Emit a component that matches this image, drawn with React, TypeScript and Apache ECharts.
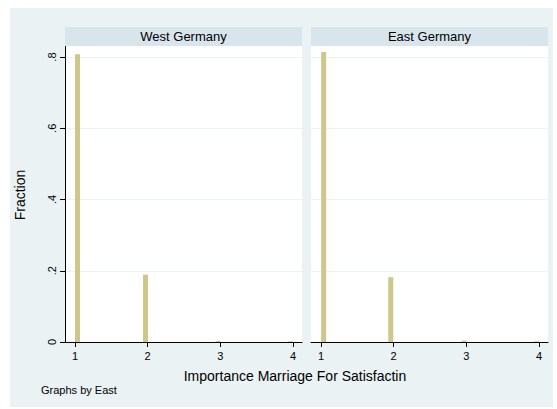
import React, { useEffect, useRef } from "react";
import * as echarts from "echarts";

// Bin midpoints (x) and fractions (y)
const westX = [1.035, 1.97, 2.97, 3.965];
const westY = [0.808, 0.189, 0.003, 0.002];
const eastX = [1.037, 1.96, 2.97, 3.965];
const eastY = [0.814, 0.182, 0.004, 0.002];
const panelTitles = ["West Germany", "East Germany"];
const xTicks = [1, 2, 3, 4];
const yTicks = [0, 0.2, 0.4, 0.6, 0.8];
const xTitle = "Importance Marriage For Satisfactin";
const yTitle = "Fraction";
const note = "Graphs by East";

const FONT = "Liberation Sans, Arial, sans-serif";
const BG = "#eaf2f3";
const STRIP = "#d9e5ec";
const BAR = "#cdc78a";

export default function App() {
  const ref = useRef<HTMLDivElement>(null);
  useEffect(() => {
    document.body.style.margin = "0";
    const chart = echarts.init(ref.current!, null, { renderer: "svg" });
    const fmt = (v: number) => (v === 0 ? "0" : String(+v.toFixed(2)).replace(/^0\./, "."));
    const grids = [
      { left: 65, top: 46, width: 237, height: 296 },
      { left: 311, top: 46, width: 237, height: 296 },
    ];
    const xAxisBase = (gi: number) => ({
      type: "value",
      gridIndex: gi,
      min: 0.863,
      max: 4.123,
      axisLine: { show: true, onZero: false, lineStyle: { color: "#000", width: 1 } },
      axisTick: { show: true, customValues: xTicks, length: 5, lineStyle: { color: "#000" } },
      axisLabel: { show: true, customValues: xTicks, color: "#000", fontSize: 11, fontFamily: FONT, margin: 8 },
      splitLine: { show: false },
    });
    const yAxisBase = (gi: number) => ({
      type: "value",
      gridIndex: gi,
      min: 0,
      max: 0.831,
      interval: 0.2,
      axisLine: { show: gi === 0, lineStyle: { color: "#000", width: 1 } },
      axisTick: { show: gi === 0, customValues: yTicks, length: 5, lineStyle: { color: "#000" } },
      axisLabel: {
        show: gi === 0,
        customValues: yTicks,
        rotate: 90,
        color: "#000",
        fontSize: 11,
        fontFamily: FONT,
        margin: 8,
        formatter: fmt,
      },
      splitLine: { show: true, lineStyle: { color: BG, width: 1 } },
    });
    const strip = (gi: number) => {
      const g = grids[gi];
      return [
        { type: "rect", shape: { x: g.left, y: 27, width: g.width, height: 19 }, style: { fill: STRIP }, z: 1 },
        {
          type: "text",
          x: g.left + g.width / 2,
          y: 36.5,
          style: { text: panelTitles[gi], fill: "#000", font: `13px ${FONT}`, align: "center", verticalAlign: "middle" },
          z: 2,
        },
      ];
    };
    chart.setOption({
      animation: false,
      backgroundColor: "#fff",
      grid: grids.map((g) => ({ ...g, show: true, backgroundColor: "#fff", borderWidth: 0 })),
      xAxis: [xAxisBase(0), xAxisBase(1)],
      yAxis: [yAxisBase(0), yAxisBase(1)],
      graphic: [
        { type: "rect", shape: { x: 10, y: 8, width: 543, height: 399 }, style: { fill: BG }, z: -10, silent: true },
        ...strip(0),
        ...strip(1),
        {
          type: "text",
          x: 295,
          y: 376,
          style: { text: xTitle, fill: "#000", font: `14px ${FONT}`, align: "center", verticalAlign: "middle" },
        },
        {
          type: "text",
          x: 20,
          y: 195,
          rotation: Math.PI / 2,
          style: { text: yTitle, fill: "#000", font: `14px ${FONT}`, align: "center", verticalAlign: "middle" },
        },
        {
          type: "text",
          x: 41,
          y: 390,
          style: { text: note, fill: "#000", font: `11px ${FONT}`, align: "left", verticalAlign: "middle" },
        },
      ],
      series: [
        {
          type: "bar",
          xAxisIndex: 0,
          yAxisIndex: 0,
          barWidth: 5,
          itemStyle: { color: BAR },
          data: westX.map((x, i) => [x, westY[i]]),
        },
        {
          type: "bar",
          xAxisIndex: 1,
          yAxisIndex: 1,
          barWidth: 5,
          itemStyle: { color: BAR },
          data: eastX.map((x, i) => [x, eastY[i]]),
        },
      ],
    });
    return () => chart.dispose();
  }, []);
  return <div ref={ref} style={{ width: 557, height: 409 }} />;
}
